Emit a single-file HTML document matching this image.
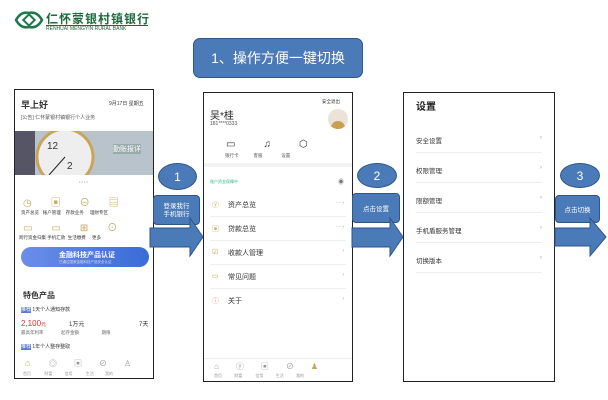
<!DOCTYPE html>
<html><head><meta charset="utf-8"><style>
*{margin:0;padding:0;box-sizing:border-box}
body{width:608px;height:400px;background:#fff;position:relative;overflow:hidden;font-family:"Liberation Sans","Noto Sans CJK SC",sans-serif}
.a{position:absolute}
.ph{position:absolute;border:1px solid #222;background:#fff;overflow:hidden}
.blue{background:#4a7ab8;border:1.5px solid #2f5687;color:#fff}
.t{position:absolute;font-size:6px;color:#333;white-space:nowrap}
.row{position:absolute;left:0;right:0;border-bottom:1px solid #eee;font-size:7px;color:#333}
</style></head><body>
<svg class="a" style="left:13px;top:9px" width="32" height="22" viewBox="0 0 32 22"><path d="M3 11 Q8 2 16 4 Q24 2 29 11 Q24 20 16 18 Q8 20 3 11Z" fill="none" stroke="#1e7a4a" stroke-width="2.5"/><rect x="12" y="7" width="8" height="8" transform="rotate(45 16 11)" fill="none" stroke="#1e7a4a" stroke-width="2"/></svg>
<div class="a" style="left:46px;top:10px;font-size:12px;font-weight:bold;color:#1e6a3e;letter-spacing:1px">仁怀蒙银村镇银行</div>
<div class="a" style="left:46px;top:25px;font-size:5px;color:#1e6a3e;border-top:1px solid #1e6a3e;width:102px">RENHUAI MENGYIN RURAL BANK</div>
<div class="a blue" style="left:193px;top:38px;width:170px;height:40px;border-radius:7px;font-size:14px;display:flex;align-items:center;justify-content:center">1、操作方便一键切换</div>

<div class="ph" style="left:14px;top:89px;width:140px;height:290px">
<div class="t" style="left:6px;top:8px;font-size:9px;font-weight:bold">早上好</div>
<div class="t" style="left:94px;top:10px;font-size:5px">9月17日 星期五</div>
<div class="t" style="left:6px;top:24px;font-size:5px;color:#555">[公告] 仁怀蒙银村镇银行个人业务</div>
<div class="a" style="left:0;top:41px;width:140px;height:44px;overflow:hidden;background:#b8c3cc">
<div class="a" style="left:0;top:0;width:20px;height:44px;background:#556"></div>
<svg class="a" style="left:20px;top:-4px" width="70" height="50"><circle cx="30" cy="30" r="28" fill="#eee" stroke="#c9a557" stroke-width="3"/><text x="12" y="22" font-size="10" fill="#333">12</text><text x="32" y="42" font-size="10" fill="#333">2</text><line x1="30" y1="30" x2="14" y2="48" stroke="#222"/></svg>
<div class="t" style="left:98px;top:13px;font-size:7px;color:#fff;background:#9aa">勤账报详</div>
</div>
<div class="t" style="left:64px;top:89px;font-size:4px;color:#999">• • • •</div>
<div class="t" style="left:8px;top:104px;font-size:10px;color:#c9a557;letter-spacing:19px">◷▣⊖▤</div>
<div class="t" style="left:6px;top:120px;font-size:4.5px">资产总览 &nbsp;&nbsp;账户管理 &nbsp;&nbsp;&nbsp;存款业务 &nbsp;&nbsp;&nbsp;&nbsp;理财专区</div>
<div class="t" style="left:8px;top:129px;font-size:10px;color:#c9a557;letter-spacing:19px">▭▭⊞⊙</div>
<div class="t" style="left:4px;top:145px;font-size:4.5px">跨行资金归集 手机汇款 &nbsp;生活缴费 &nbsp;&nbsp;&nbsp;&nbsp;更多</div>
<div class="a" style="left:6px;top:157px;width:128px;height:20px;border-radius:10px;background:linear-gradient(90deg,#6b8ee8,#3a6bd8)"></div>
<div class="t" style="left:44px;top:160px;font-size:7px;color:#fff;font-weight:bold">金融科技产品认证</div>
<div class="t" style="left:44px;top:170px;font-size:3.5px;color:#dde">已通过国家金融科技产品安全认证</div>
<div class="t" style="left:8px;top:200px;font-size:8px;font-weight:bold">特色产品</div>
<div class="t" style="left:6px;top:216px;font-size:5px"><span style="background:#5b7bc8;color:#fff">推荐</span> 1天个人通知存款</div>
<div class="t" style="left:6px;top:229px;font-size:8px;color:#c33">2,100<span style="font-size:5px">元</span></div>
<div class="t" style="left:54px;top:229px;font-size:6px">1万元</div>
<div class="t" style="left:124px;top:229px;font-size:6px">7天</div>
<div class="t" style="left:6px;top:240px;font-size:4.5px;color:#666">最高年利率 &nbsp;&nbsp;&nbsp;&nbsp;&nbsp;&nbsp;&nbsp;&nbsp;&nbsp;&nbsp;&nbsp;&nbsp;&nbsp;起存金额 &nbsp;&nbsp;&nbsp;&nbsp;&nbsp;&nbsp;&nbsp;&nbsp;&nbsp;&nbsp;&nbsp;&nbsp;&nbsp;&nbsp;&nbsp;&nbsp;&nbsp;期限</div>
<div class="t" style="left:6px;top:253px;font-size:5px"><span style="background:#5b7bc8;color:#fff">推荐</span> 1年个人整存整取</div>
<div class="t" style="left:10px;top:268px;font-size:9px;color:#c9a557">⌂</div>
<div class="t" style="left:34px;top:268px;font-size:8px;color:#999;letter-spacing:17px">◎▣⊘♙</div>
<div class="t" style="left:8px;top:281px;font-size:4px;color:#999">首页 &nbsp;&nbsp;&nbsp;&nbsp;&nbsp;&nbsp;&nbsp;&nbsp;&nbsp;&nbsp;&nbsp;财富 &nbsp;&nbsp;&nbsp;&nbsp;&nbsp;&nbsp;&nbsp;&nbsp;&nbsp;&nbsp;信用 &nbsp;&nbsp;&nbsp;&nbsp;&nbsp;&nbsp;&nbsp;&nbsp;&nbsp;&nbsp;&nbsp;生活 &nbsp;&nbsp;&nbsp;&nbsp;&nbsp;&nbsp;&nbsp;&nbsp;&nbsp;我的</div>
</div>

<div class="ph" style="left:203px;top:92px;width:150px;height:290px">
<div class="t" style="left:118px;top:6px;font-size:4.5px">安全退出</div>
<div class="t" style="left:6px;top:14px;font-size:10px;color:#222">吴*桂</div>
<div class="t" style="left:6px;top:28px;font-size:5px;color:#555">181****0333</div>
<div class="a" style="left:124px;top:16px;width:20px;height:20px;border-radius:50%;background:#e9e3d8;overflow:hidden"><div class="a" style="left:3px;top:12px;width:14px;height:10px;border-radius:7px 7px 0 0;background:#c9a050"></div></div>
<div class="t" style="left:22px;top:46px;font-size:10px;letter-spacing:28px">▭♫⬡</div>
<div class="t" style="left:21px;top:60px;font-size:4.5px;color:#555">银行卡 &nbsp;&nbsp;&nbsp;&nbsp;&nbsp;&nbsp;&nbsp;&nbsp;&nbsp;&nbsp;&nbsp;客服 &nbsp;&nbsp;&nbsp;&nbsp;&nbsp;&nbsp;&nbsp;&nbsp;&nbsp;&nbsp;&nbsp;&nbsp;&nbsp;&nbsp;设置</div>
<div class="a" style="left:0;top:70px;width:150px;height:4px;background:#f3f3f3"></div>
<div class="t" style="left:6px;top:86px;font-size:4px;color:#2bb58a">账户资金保障中</div>
<div class="t" style="left:134px;top:84px;font-size:6px;color:#777">◉</div>
<div class="row" style="top:100px;height:24px;margin:0 6px"><span class="a" style="left:2px;top:7px;color:#c9a557">ⓨ</span><span class="a" style="left:18px;top:7px">资产总览</span><span class="a" style="right:2px;top:7px;color:#999;font-size:5px">··· ›</span></div>
<div class="row" style="top:124px;height:24px;margin:0 6px"><span class="a" style="left:2px;top:7px;color:#c9a557">▣</span><span class="a" style="left:18px;top:7px">贷款总览</span><span class="a" style="right:2px;top:7px;color:#999;font-size:5px">··· ›</span></div>
<div class="row" style="top:148px;height:24px;margin:0 6px"><span class="a" style="left:2px;top:7px;color:#c9a557">☑</span><span class="a" style="left:18px;top:7px">收款人管理</span><span class="a" style="right:2px;top:7px;color:#999;font-size:5px">›</span></div>
<div class="row" style="top:172px;height:24px;margin:0 6px"><span class="a" style="left:2px;top:7px;color:#c9a557">▭</span><span class="a" style="left:18px;top:7px">常见问题</span><span class="a" style="right:2px;top:7px;color:#999;font-size:5px">›</span></div>
<div class="row" style="top:196px;height:24px;margin:0 6px;border:none"><span class="a" style="left:2px;top:7px;color:#c9a557">ⓘ</span><span class="a" style="left:18px;top:7px">关于</span><span class="a" style="right:2px;top:7px;color:#999;font-size:5px">›</span></div>
<div class="a" style="left:0;top:265px;width:150px;border-top:1px solid #eee"></div>
<div class="t" style="left:10px;top:268px;font-size:8px;color:#999;letter-spacing:17px">⌂ⓨ▣⊘<span style="color:#c9a557">♟</span></div>
<div class="t" style="left:10px;top:280px;font-size:4px;color:#999">首页 &nbsp;&nbsp;&nbsp;&nbsp;&nbsp;&nbsp;&nbsp;&nbsp;&nbsp;&nbsp;财富 &nbsp;&nbsp;&nbsp;&nbsp;&nbsp;&nbsp;&nbsp;&nbsp;&nbsp;&nbsp;&nbsp;信用 &nbsp;&nbsp;&nbsp;&nbsp;&nbsp;&nbsp;&nbsp;&nbsp;&nbsp;&nbsp;生活 &nbsp;&nbsp;&nbsp;&nbsp;&nbsp;&nbsp;&nbsp;&nbsp;&nbsp;&nbsp;我的</div>
</div>

<div class="ph" style="left:403px;top:92px;width:152px;height:290px">
<div class="t" style="left:12px;top:5px;font-size:10px;font-weight:bold;color:#222">设置</div>
<div class="row" style="top:30px;height:30px;margin:0 12px"><span class="a" style="left:0;top:12px;font-size:6.5px">安全设置</span><span class="a" style="right:0;top:12px;color:#999;font-size:6px">›</span></div>
<div class="row" style="top:60px;height:30px;margin:0 12px"><span class="a" style="left:0;top:12px;font-size:6.5px">权限管理</span><span class="a" style="right:0;top:12px;color:#999;font-size:6px">›</span></div>
<div class="row" style="top:90px;height:30px;margin:0 12px"><span class="a" style="left:0;top:12px;font-size:6.5px">限额管理</span><span class="a" style="right:0;top:12px;color:#999;font-size:6px">›</span></div>
<div class="row" style="top:120px;height:30px;margin:0 12px"><span class="a" style="left:0;top:12px;font-size:6.5px">手机盾服务管理</span><span class="a" style="right:0;top:12px;color:#999;font-size:6px">›</span></div>
<div class="row" style="top:150px;height:30px;margin:0 12px"><span class="a" style="left:0;top:12px;font-size:6.5px">切换版本</span><span class="a" style="right:0;top:12px;color:#999;font-size:6px">›</span></div>
</div>

<div class="a blue" style="left:158px;top:163px;width:39px;height:27px;border-radius:50%;font-size:12px;display:flex;align-items:center;justify-content:center">1</div>
<div class="a blue" style="left:153px;top:195px;width:47px;height:30px;border-radius:4px;font-size:6.5px;line-height:8px;text-align:center;padding-top:7px">登录我行<br>手机银行</div>
<div class="a blue" style="left:357px;top:163px;width:40px;height:25px;border-radius:50%;font-size:12px;display:flex;align-items:center;justify-content:center">2</div>
<div class="a blue" style="left:352px;top:193px;width:48px;height:30px;border-radius:4px;font-size:6.5px;display:flex;align-items:center;justify-content:center">点击设置</div>
<div class="a blue" style="left:560px;top:163px;width:40px;height:25px;border-radius:50%;font-size:12px;display:flex;align-items:center;justify-content:center">3</div>
<div class="a blue" style="left:555px;top:195px;width:45px;height:28px;border-radius:4px;font-size:6.5px;display:flex;align-items:center;justify-content:center">点击切换</div>
<svg class="a" style="left:0;top:0" width="608" height="400">
<g fill="#4a7ab8" stroke="#2f5687" stroke-width="1">
<polygon points="150,228 190,228 190,218 203,237 190,256 190,247 150,247"/>
<polygon points="352,228 390,228 390,218 403,237 390,256 390,247 352,247"/>
<polygon points="555,228 590,228 590,218 606,237 590,256 590,246 555,246"/>
</g></svg>
</body></html>
